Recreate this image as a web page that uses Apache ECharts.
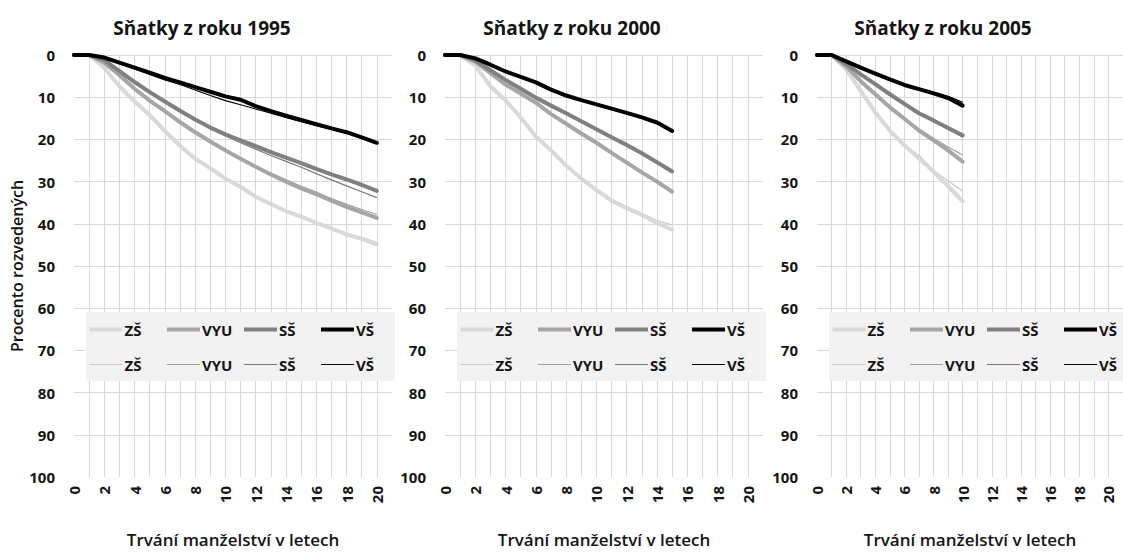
<!DOCTYPE html>
<html>
<head>
<meta charset="utf-8">
<script src="https://cdn.jsdelivr.net/npm/echarts@6/dist/echarts.min.js"></script>
<style>
html,body{margin:0;padding:0;background:#fff;}
#c{width:1123px;height:553px;}
</style>
</head>
<body>
<div id="c"></div>
<script>
// ---- data ----
const panelTitles = ['Sňatky z roku 1995', 'Sňatky z roku 2000', 'Sňatky z roku 2005'];
const educationLabels = ['ZŠ', 'VYU', 'SŠ', 'VŠ'];
const xAxisTitle = 'Trvání manželství v letech';
const yAxisTitle = 'Procento rozvedených';

// 1995 (years 0..20)
const zsThick1995  = [0,0,3,7.4,11,14.2,18,21.5,24.6,26.8,29.3,31.2,33.6,35.3,37,38.3,39.8,41.1,42.5,43.5,44.7];
const zsThin1995   = [0,0,3.2,7.6,11.3,14.6,18.3,21.7,24.7,27,29.5,31.5,33.7,35.4,37.2,38.6,40,41.3,42.8,43.9,45.2];
const vyuThick1995 = [0,0,1.8,4.8,8,10.8,13.3,15.9,18.3,20.5,22.6,24.6,26.5,28.3,30,31.6,33,34.5,36,37.3,38.6];
const vyuThin1995  = [0,0,2,5,8.2,11,13.5,16,18.4,20.6,22.6,24.5,26.3,28,29.6,31.1,32.5,34,35.4,36.6,37.8];
const ssThick1995  = [0,0,1.2,3.8,6.4,8.8,11,13.2,15.3,17.2,18.8,20.2,21.6,23,24.3,25.6,27,28.3,29.5,30.8,32.2];
const ssThin1995   = [0,0,1.3,4,6.6,9,11.2,13.4,15.5,17.4,19.2,20.8,22.3,23.8,25.2,26.6,28.1,29.6,31,32.4,33.8];
const vsThick1995  = [0,0,0.6,1.8,3,4.2,5.4,6.5,7.6,8.7,9.8,10.6,12.1,13.3,14.4,15.4,16.4,17.4,18.3,19.5,20.8];
const vsThin1995   = [0,0,0.8,2,3.3,4.6,5.9,7,8.3,9.6,10.8,11.8,12.8,13.8,14.8,15.8,16.7,17.6,18.5,19.6,20.8];

// 2000 (years 0..15)
const zsThick2000  = [0,0,2.5,7.4,10.8,14.8,19.3,22.6,26.2,29.3,32,34.5,36.3,37.9,39.8,41.4];
const zsThin2000   = [0,0,2.7,7.6,11,15,19.4,22.5,26,29,31.7,34.1,36,37.6,39.2,40.3];
const vyuThick2000 = [0,0,1.6,4.3,7,9.1,11.3,14,16.3,18.6,20.8,23.2,25.5,27.8,30,32.4];
const vyuThin2000  = [0,0,1.7,4.4,7.1,9.3,11.5,14.1,16.4,18.6,20.8,23.1,25.3,27.6,29.8,32.2];
const ssThick2000  = [0,0,1.3,3.6,5.9,8,10.1,12,13.8,15.7,17.6,19.5,21.3,23.3,25.4,27.6];
const ssThin2000   = [0,0,1.4,3.7,6,8.1,10.2,12.1,13.9,15.8,17.7,19.6,21.4,23.3,25.3,27.4];
const vsThick2000  = [0,0,0.8,2.3,3.9,5.2,6.5,8.2,9.6,10.7,11.7,12.7,13.7,14.8,16,18];
const vsThin2000   = [0,0,0.9,2.4,4,5.3,6.6,8.2,9.5,10.6,11.6,12.6,13.6,14.7,15.9,17.8];

// 2005 (years 0..10)
const zsThick2005  = [0,0,3.4,8.5,13.6,17.9,21.4,24.5,27.6,31.1,34.7];
const zsThin2005   = [0,0,3.2,8.2,13.2,17.6,21.4,23.8,27.4,29.8,32.3];
const vyuThick2005 = [0,0,2.7,6.2,9.3,12.4,15.1,17.9,20.2,22.6,25.3];
const vyuThin2005  = [0,0,2.7,6.2,9.3,12.3,15,17.6,19.8,21.8,23.7];
const ssThick2005  = [0,0,2.1,4.6,6.9,9.3,11.6,13.8,15.5,17.3,19];
const ssThin2005   = [0,0,2.2,4.7,7,9.4,11.7,13.9,15.7,17.6,19.5];
const vsThick2005  = [0,0,1.5,3,4.4,5.8,7.1,8.1,9.1,10.2,12];
const vsThin2005   = [0,0,1.5,3,4.3,5.6,6.9,7.9,8.8,9.8,11.2];

const xTickLabels = [0,2,4,6,8,10,12,14,16,18,20];

// ---- layout / styling ----
const FONT = '"Open Sans", "DejaVu Sans", sans-serif';
const TXT = '#141414';
const gridLefts = [74, 445, 817];
const gridTop = 55, gridHeight = 427, gridWidth = 318;
const titleCenters = [202, 572, 943];
const colOffsets = [15.5, 93, 170, 247];
const colors = ['#d9d9d9', '#a6a6a6', '#808080', '#000000'];
const thinColors = ['#c9c9c9', '#a0a0a0', '#7a7a7a', '#000000'];
const THICK_ICON = 'path://M0,0H33V4H0Z';
const THIN_ICON = 'path://M0,0H33V1.2H0Z';

const panels = [
  {thick:[zsThick1995,vyuThick1995,ssThick1995,vsThick1995], thin:[zsThin1995,vyuThin1995,ssThin1995,vsThin1995]},
  {thick:[zsThick2000,vyuThick2000,ssThick2000,vsThick2000], thin:[zsThin2000,vyuThin2000,ssThin2000,vsThin2000]},
  {thick:[zsThick2005,vyuThick2005,ssThick2005,vsThick2005], thin:[zsThin2005,vyuThin2005,ssThin2005,vsThin2005]}
];

const grids = [], xAxes = [], yAxes = [], series = [], legends = [], graphics = [];

panels.forEach((p, i) => {
  grids.push({left: gridLefts[i], top: gridTop, width: gridWidth, height: gridHeight, containLabel: false});
  xAxes.push({
    type: 'value', gridIndex: i, min: 0, max: 21, interval: 1,
    name: xAxisTitle, nameLocation: 'middle', nameGap: 54,
    nameTextStyle: {fontFamily: FONT, fontSize: 17, fontWeight: 600, color: TXT},
    axisLine: {show: false}, axisTick: {show: false},
    axisLabel: {
      rotate: 90, margin: 9, fontFamily: FONT, fontSize: 15, fontWeight: 700, color: TXT,
      formatter: v => xTickLabels.indexOf(v) >= 0 ? String(v) : ''
    },
    splitLine: {show: true, showMinLine: false, showMaxLine: false, lineStyle: {color: '#d9d9d9', width: 1}}
  });
  yAxes.push({
    type: 'value', gridIndex: i, min: 0, max: 100, interval: 10, inverse: true,
    name: i === 0 ? yAxisTitle : '', nameLocation: 'middle', nameGap: 45, nameRotate: 90,
    nameTextStyle: {fontFamily: FONT, fontSize: 16, fontWeight: 600, color: TXT},
    axisLine: {show: false}, axisTick: {show: false},
    axisLabel: {margin: 19, fontFamily: FONT, fontSize: 15, fontWeight: 700, color: TXT},
    splitLine: {show: true, showMaxLine: false, lineStyle: {color: '#d9d9d9', width: 1}}
  });
  // thin lines first, thick lines drawn on top
  p.thin.forEach((arr, k) => {
    series.push({
      name: educationLabels[k] + '|thin', type: 'line', xAxisIndex: i, yAxisIndex: i,
      data: arr.map((v, t) => [t, v]), symbol: 'none', smooth: false,
      lineStyle: {color: thinColors[k], width: 1.2}, itemStyle: {color: thinColors[k]},
      z: 2, silent: true
    });
  });
  p.thick.forEach((arr, k) => {
    series.push({
      name: educationLabels[k] + '|thick', type: 'line', xAxisIndex: i, yAxisIndex: i,
      data: arr.map((v, t) => [t, v]), symbol: 'none', smooth: false,
      lineStyle: {color: colors[k], width: 4, cap: 'round', join: 'round'}, itemStyle: {color: colors[k]},
      z: 3, silent: true
    });
  });
  // legend background
  graphics.push({
    type: 'rect', left: gridLefts[i] + 12, top: 312, z: 1,
    shape: {width: 309, height: 69}, style: {fill: '#f2f2f2'}
  });
  // panel title
  graphics.push({
    type: 'text', x: titleCenters[i], y: 28, z: 5,
    style: {text: panelTitles[i], fill: TXT, font: '700 19px ' + FONT, textAlign: 'center', textVerticalAlign: 'middle'}
  });
  // legends: one per column (thick row, thin row)
  educationLabels.forEach((lab, k) => {
    legends.push({
      orient: 'vertical', left: gridLefts[i] + colOffsets[k], top: 322, padding: 0,
      itemWidth: 33, itemHeight: 14, itemGap: 20, selectedMode: false, z: 4,
      symbolKeepAspect: true,
      data: [
        {name: lab + '|thick', icon: THICK_ICON, itemStyle: {color: colors[k], borderWidth: 0}},
        {name: lab + '|thin', icon: THIN_ICON, itemStyle: {color: thinColors[k], borderWidth: 0}}
      ],
      formatter: n => n.split('|')[0],
      textStyle: {fontFamily: FONT, fontSize: 15, fontWeight: 700, color: TXT, padding: [0, 0, 0, -3]}
    });
  });
});

const chart = echarts.init(document.getElementById('c'), null, {renderer: 'svg'});
chart.setOption({
  animation: false,
  backgroundColor: '#ffffff',
  grid: grids, xAxis: xAxes, yAxis: yAxes, series: series,
  legend: legends, graphic: graphics
});
</script>
</body>
</html>
